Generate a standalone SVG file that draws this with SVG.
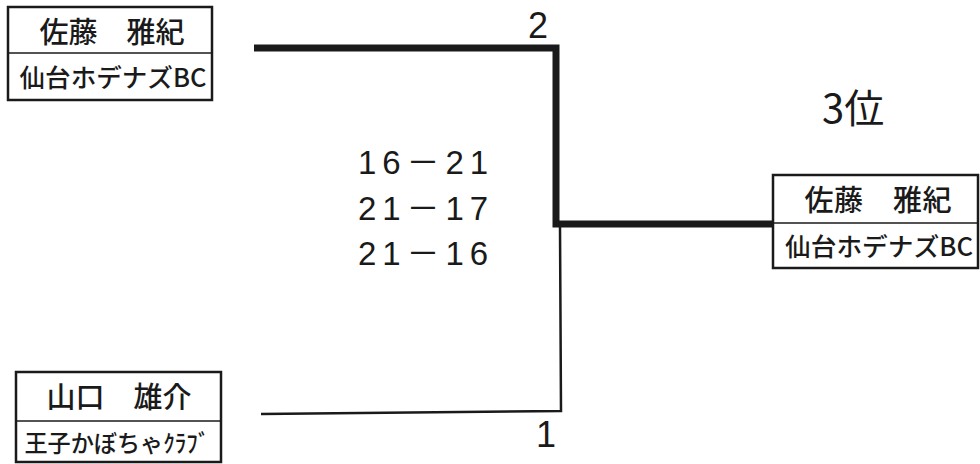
<svg xmlns="http://www.w3.org/2000/svg" width="980" height="464" viewBox="0 0 980 464">
<style>
.box{fill:#fff;stroke:#1a1a1a;stroke-width:2.5}
.div{stroke:#1a1a1a;stroke-width:1.5}
.jp{font-family:"Noto Sans CJK JP","Liberation Sans",sans-serif;fill:#1a1a1a;font-weight:500}
.num{font-family:"Liberation Sans","Noto Sans CJK JP",sans-serif;fill:#1a1a1a}
.rank{font-family:"Noto Sans CJK JP","Liberation Sans",sans-serif;fill:#1a1a1a;font-weight:400}
.thick{fill:none;stroke:#1a1a1a;stroke-width:7;stroke-linejoin:miter}
.thin{fill:none;stroke:#1a1a1a;stroke-width:2.5}
</style>
<rect width="980" height="464" fill="#fff"/>
<g id="connectors">
<polyline class="thick" points="254,48 556,48 556,224 775,224"/>
<polyline class="thin" points="560,227 561,411 261,414"/>
<text class="num" x="538" y="38" font-size="36" text-anchor="middle">2</text>
<text class="num" x="546" y="447" font-size="36" text-anchor="middle">1</text>
</g>
<g id="score">
<text class="num" x="358" y="174" font-size="33" textLength="130" lengthAdjust="spacing">16－21</text>
<text class="num" x="358" y="220" font-size="33" textLength="130" lengthAdjust="spacing">21－17</text>
<text class="num" x="358" y="265" font-size="33" textLength="130" lengthAdjust="spacing">21－16</text>
</g>
<g id="node-top">
<rect class="box" x="8" y="7" width="204" height="93"/>
<line class="div" x1="8" y1="53" x2="212" y2="53"/>
<text class="jp" x="112" y="43" font-size="29" text-anchor="middle" textLength="145" lengthAdjust="spacing">佐藤　雅紀</text>
<text class="jp" x="113" y="87" font-size="25" text-anchor="middle" textLength="187" lengthAdjust="spacingAndGlyphs">仙台ホデナズBC</text>
</g>
<g id="node-bottom">
<rect class="box" x="16" y="372" width="205" height="90"/>
<line class="div" x1="16" y1="421" x2="221" y2="421"/>
<text class="jp" x="119" y="408" font-size="29" text-anchor="middle" textLength="145" lengthAdjust="spacing">山口　雄介</text>
<text class="jp" x="117" y="452" font-size="24" text-anchor="middle" textLength="185" lengthAdjust="spacingAndGlyphs">王子かぼちゃｸﾗﾌﾞ</text>
</g>
<g id="node-winner">
<rect class="box" x="773" y="175" width="205" height="93"/>
<line class="div" x1="773" y1="223" x2="978" y2="223"/>
<text class="jp" x="878" y="211" font-size="29" text-anchor="middle" textLength="147" lengthAdjust="spacing">佐藤　雅紀</text>
<text class="jp" x="879" y="256" font-size="25" text-anchor="middle" textLength="188" lengthAdjust="spacingAndGlyphs">仙台ホデナズBC</text>
</g>
<g id="rank">
<text class="rank" x="822" y="123" font-size="40">3位</text>
</g>
</svg>
